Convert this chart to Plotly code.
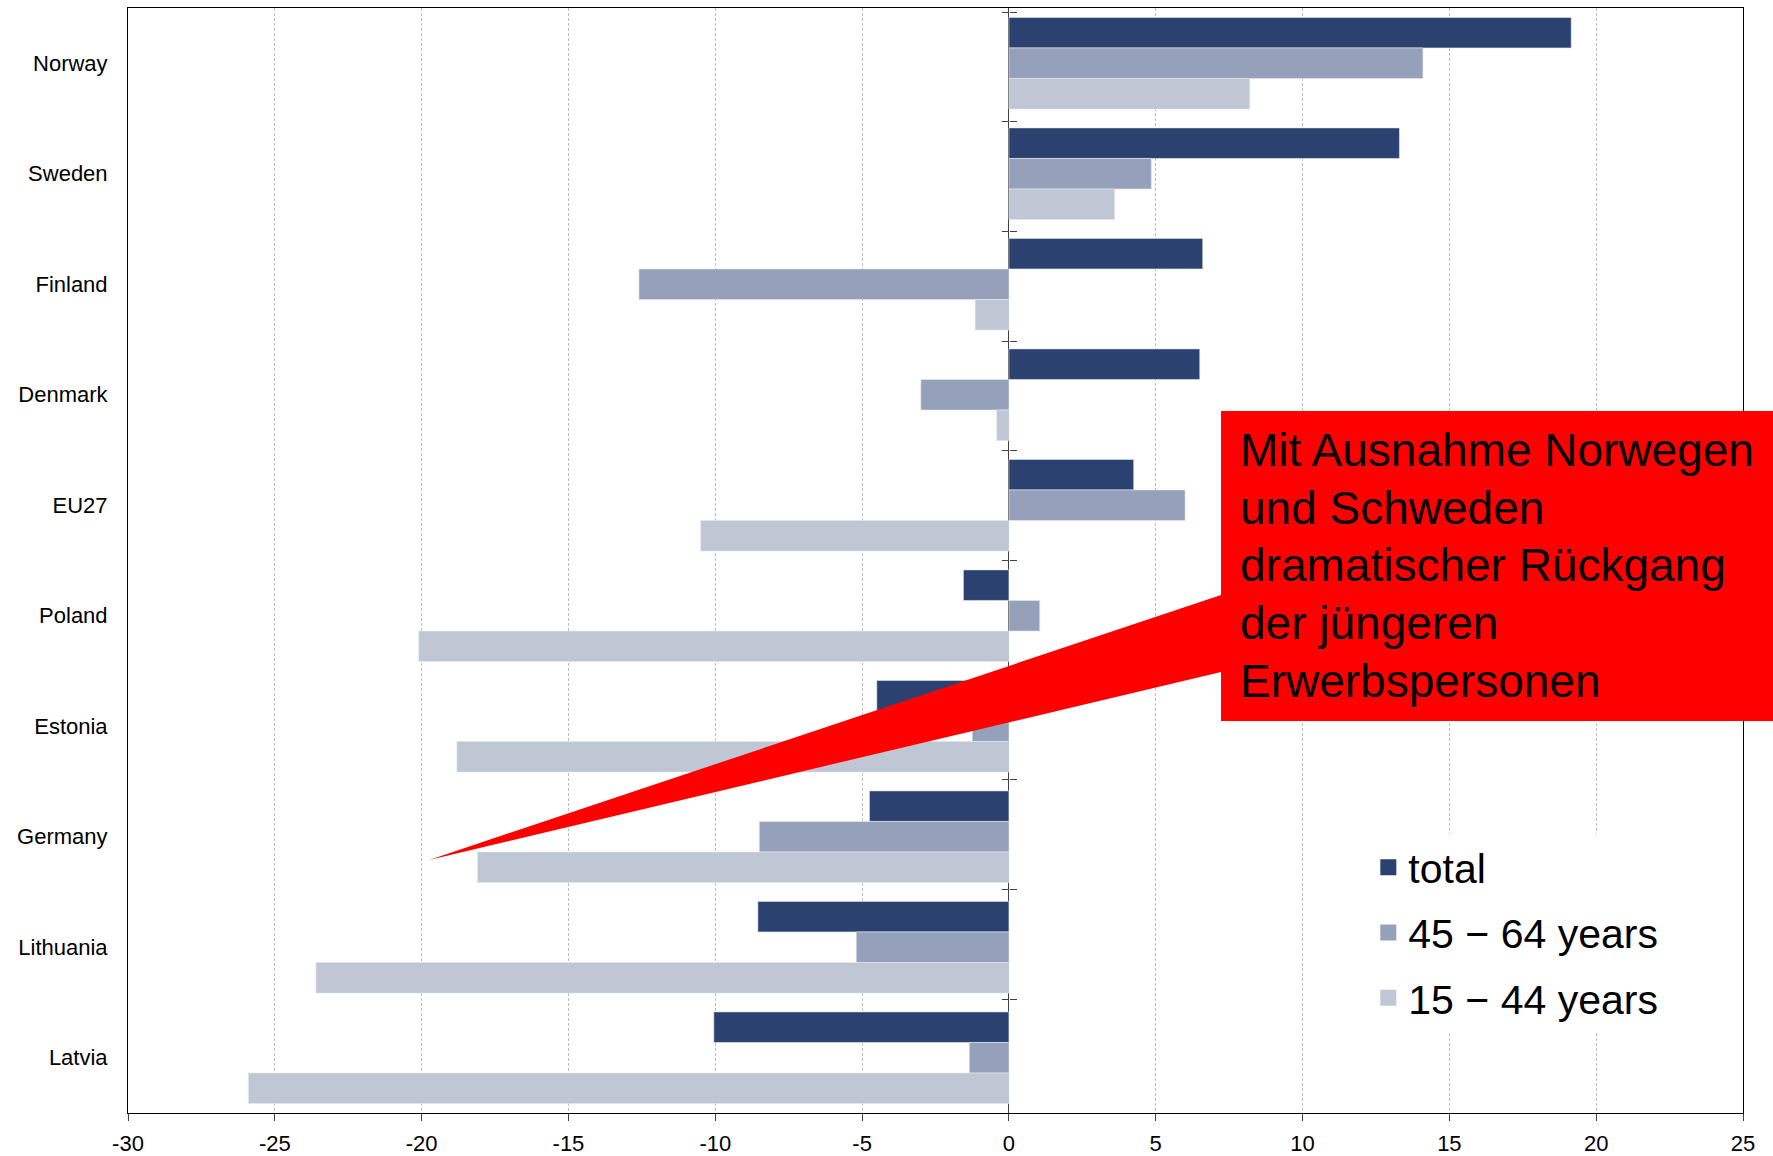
import plotly.graph_objects as go

countries = ["Norway", "Sweden", "Finland", "Denmark", "EU27", "Poland",
             "Estonia", "Germany", "Lithuania", "Latvia"]
total = [19.15, 13.3, 6.6, 6.5, 4.25, -1.55, -4.5, -4.75, -8.55, -10.05]
age_45_64 = [14.1, 4.85, -12.6, -3.0, 6.0, 1.05, -1.25, -8.5, -5.2, -1.35]
age_15_44 = [8.2, 3.6, -1.15, -0.42, -10.5, -20.1, -18.8, -18.1, -23.6, -25.9]
series_names = ["total", "45 − 64 years", "15 − 44 years"]
series_colors = ["#2B4170", "#95A1BA", "#BFC6D4"]
x_ticks = [-30, -25, -20, -15, -10, -5, 0, 5, 10, 15, 20, 25]
x_tick_labels = [str(v) for v in x_ticks]
callout_lines = ["Mit Ausnahme Norwegen", "und Schweden", "dramatischer Rückgang",
                 "der jüngeren", "Erwerbspersonen"]

FONT = "Liberation Sans, Arial, sans-serif"
W, H = 1773, 1156
L, R, T, B = 128, 30, 8, 43
pw, ph = W - L - R, H - T - B

fig = go.Figure()
for name, vals, col in zip(series_names, [total, age_45_64, age_15_44], series_colors):
    fig.add_trace(go.Bar(
        y=countries, x=vals, name=name, orientation="h",
        marker=dict(color=col, line=dict(width=0.6, color="#E6E9EF")),
        legendgroup=name, showlegend=False,
    ))
# legend-only entries (larger square symbols)
for name, col in zip(series_names, series_colors):
    fig.add_trace(go.Scatter(
        x=[None], y=[None], mode="markers", name=name, legendgroup=name,
        marker=dict(symbol="square", size=16, color=col), showlegend=True,
    ))

# invisible traces carrying the tick marks on the zero line
for ax in ["y2", "y3"]:
    fig.add_trace(go.Scatter(y=countries, x=[0] * len(countries), yaxis=ax,
                             mode="markers", marker=dict(opacity=0),
                             hoverinfo="skip", showlegend=False))


def px2paper_x(px):
    return (px - L) / pw


def px2paper_y(py):
    return (H - B - py) / ph


# callout shape (rectangle with a wedge pointing into the chart)
pts = [(429, 860), (1221, 595), (1221, 411), (1790, 411), (1790, 721),
       (1221, 721), (1221, 672)]
path = "M " + " L ".join(f"{px2paper_x(x):.4f},{px2paper_y(y):.4f}" for x, y in pts) + " Z"
fig.add_shape(type="path", path=path, xref="paper", yref="paper",
              fillcolor="#FF0000", line=dict(width=0), layer="above")

for i, line in enumerate(callout_lines):
    fig.add_annotation(text=line, xref="paper", yref="paper",
                       x=px2paper_x(1238), y=px2paper_y(450 + 57.7 * i),
                       xanchor="left", yanchor="middle", align="left", showarrow=False,
                       font=dict(family=FONT, size=46, color="black"))

zero_pos = (0 - x_ticks[0]) / (x_ticks[-1] - x_ticks[0])

fig.update_layout(
    width=W, height=H,
    margin=dict(l=L, r=R, t=T, b=B, autoexpand=False),
    paper_bgcolor="white", plot_bgcolor="white",
    barmode="group", bargap=0.17, bargroupgap=0,
    font=dict(family=FONT, size=22, color="black"),
    showlegend=True,
    legend=dict(x=0.768, y=px2paper_y(834), xanchor="left", yanchor="top",
                bgcolor="white", font=dict(family=FONT, size=41, color="black"),
                traceorder="grouped", tracegroupgap=9, itemwidth=30),
    xaxis=dict(range=[x_ticks[0], x_ticks[-1]], tickvals=x_ticks, ticktext=x_tick_labels,
               automargin=False,
               showgrid=True, gridcolor="#BDBDBD", griddash="3px,2px", gridwidth=1,
               zeroline=True, zerolinecolor="#404040", zerolinewidth=1.3,
               showline=True, linecolor="black", linewidth=1, mirror=True,
               ticks="outside", ticklen=7, tickcolor="#404040", ticklabelstandoff=4,
               tickfont=dict(size=22)),
    yaxis=dict(type="category", categoryorder="array", categoryarray=countries,
               automargin=False,
               autorange="reversed", showline=True, linecolor="black", linewidth=1,
               mirror=True, ticks="", showgrid=False, ticklabelstandoff=15,
               tickfont=dict(size=22)),
    yaxis2=dict(type="category", categoryorder="array", categoryarray=countries,
                automargin=False,
                autorange="reversed", overlaying="y", anchor="free", position=zero_pos,
                side="left", tickson="boundaries", ticks="outside", ticklen=7,
                tickcolor="#404040", showticklabels=False, showgrid=False,
                showline=False, zeroline=False),
    yaxis3=dict(type="category", categoryorder="array", categoryarray=countries,
                automargin=False,
                autorange="reversed", overlaying="y", anchor="free", position=zero_pos,
                side="right", tickson="boundaries", ticks="outside", ticklen=7,
                tickcolor="#404040", showticklabels=False, showgrid=False,
                showline=False, zeroline=False),
)

fig.write_html("out.html", config={"displayModeBar": False},
               post_script="document.body.style.margin='0px';")
